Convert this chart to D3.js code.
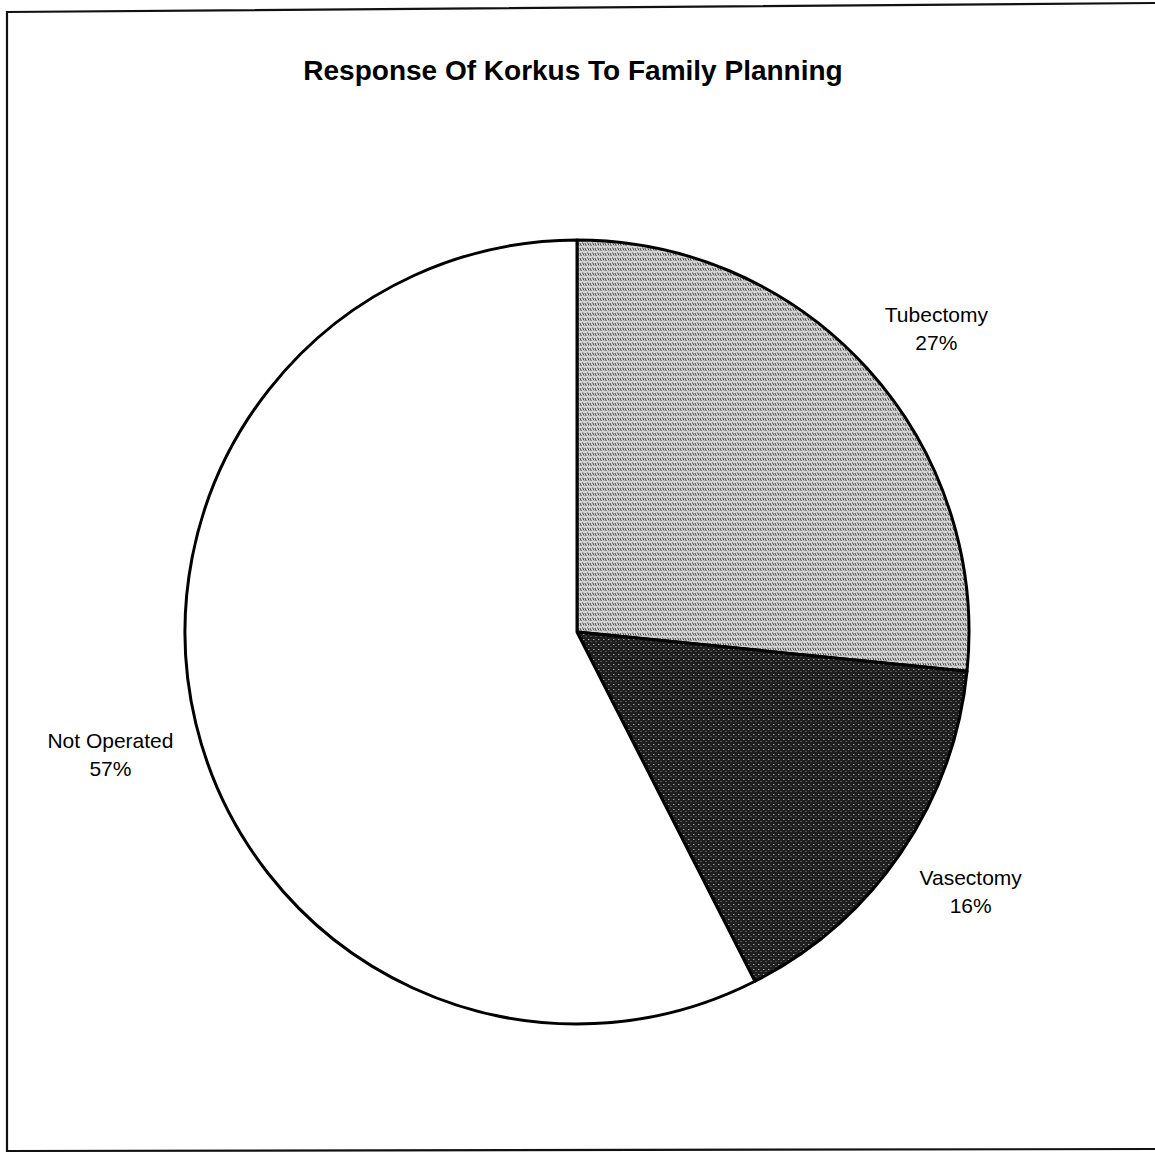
<!DOCTYPE html>
<html><head><meta charset="utf-8">
<script src="https://cdn.jsdelivr.net/npm/d3@7/dist/d3.min.js"></script>
<style>html,body{margin:0;padding:0;background:#fff;}svg{display:block;}</style>
</head><body>
<svg id="chart" width="1155" height="1162"></svg>
<script>
const categories = ["Tubectomy", "Vasectomy", "Not Operated"];
const values = [26.6, 15.9, 57.5];
const labels = ["27%", "16%", "57%"];
const title = "Response Of Korkus To Family Planning";

const svg = d3.select("#chart");
const cx = 577, cy = 632, R = 392;

// scanned frame (slightly skewed, no right edge)
svg.append("path").attr("d", "M1156,3 L7,12 L7,1151 L1156,1149")
  .attr("fill", "none").attr("stroke", "#111").attr("stroke-width", 2.2);

// textures
const defs = svg.append("defs");
const p1 = defs.append("pattern").attr("id", "light").attr("patternUnits", "userSpaceOnUse")
  .attr("width", 5).attr("height", 5);
p1.append("rect").attr("width", 5).attr("height", 5).attr("fill", "#d4d4d4");
p1.append("path").attr("d", "M0.5,0.5 L2,3.5 M3,1 L4.3,4").attr("stroke", "#3a3a3a").attr("stroke-width", 0.9).attr("fill", "none");
const p2 = defs.append("pattern").attr("id", "dark").attr("patternUnits", "userSpaceOnUse")
  .attr("width", 5).attr("height", 5);
p2.append("rect").attr("width", 5).attr("height", 5).attr("fill", "#1e1e1e");
p2.append("rect").attr("x", 1).attr("y", 2).attr("width", 1.4).attr("height", 1).attr("fill", "#a8a8a8");
p2.append("rect").attr("x", 3.5).attr("y", 4).attr("width", 1).attr("height", 1).attr("fill", "#808080");

const fills = d3.scaleOrdinal().domain(categories).range(["url(#light)", "url(#dark)", "#ffffff"]);

const pie = d3.pie().sort(null).value(d => d.value);
const arcs = pie(categories.map((c, i) => ({cat: c, value: values[i], label: labels[i]})));
const arc = d3.arc().innerRadius(0).outerRadius(R);
const anchorArc = d3.arc().innerRadius(415).outerRadius(415);

const g = svg.append("g").attr("transform", `translate(${cx},${cy})`);
g.selectAll("path.slice").data(arcs).join("path")
  .attr("class", "slice")
  .attr("d", arc)
  .attr("fill", d => fills(d.data.cat))
  .attr("stroke", "#000").attr("stroke-width", 3).attr("stroke-linejoin", "round");

const lg = g.selectAll("text.lbl").data(arcs).join("text")
  .attr("class", "lbl")
  .attr("text-anchor", "middle")
  .attr("font-family", "Liberation Sans, Arial, sans-serif")
  .attr("font-size", 21)
  .attr("fill", "#000");
lg.append("tspan").attr("x", 0).attr("dy", 0).text(d => d.data.cat);
lg.append("tspan").attr("x", 0).attr("dy", 28).text(d => d.data.label);

// Excel-style placement: box corner sits on anchor point at slice mid-angle
lg.each(function(d) {
  const bb = this.getBBox();
  const a = (d.startAngle + d.endAngle) / 2;
  const [ax, ay] = anchorArc.centroid(d);
  const bx = ax + Math.sign(Math.sin(a)) * bb.width / 2;
  const by = ay + Math.sign(-Math.cos(a)) * bb.height / 2;
  const ccx = bb.x + bb.width / 2, ccy = bb.y + bb.height / 2;
  d3.select(this).attr("transform", `translate(${bx - ccx},${by - ccy})`);
});

svg.append("text").attr("x", 573).attr("y", 80).attr("text-anchor", "middle")
  .attr("font-family", "Liberation Sans, Arial, sans-serif").attr("font-weight", "bold")
  .attr("font-size", 28).attr("fill", "#000").text(title);
</script>
</body></html>
